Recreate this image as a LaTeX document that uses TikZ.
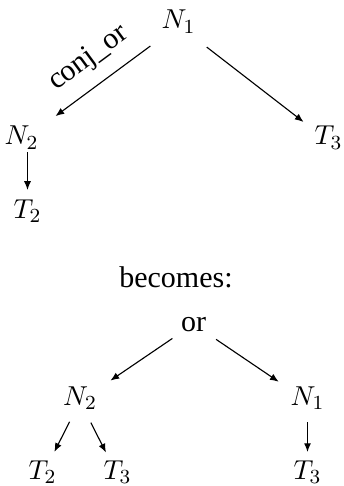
\documentclass[tikz,border=0pt]{standalone}
\usepackage{fontspec}
\setmainfont{Liberation Serif}
\usetikzlibrary{arrows.meta}
\tikzset{
  mnode/.style={inner sep=0pt, text height=6.5pt, text depth=3.5pt, font=\fontsize{11}{13}\selectfont},
  tnode/.style={inner sep=0pt, anchor=base, font=\fontsize{12}{14}\selectfont},
  lbl/.style={inner sep=0pt, font=\fontsize{12}{14}\selectfont},
  conn/.style={-{Latex[length=3.5pt,width=2.8pt]}, line width=0.45pt},
}
\begin{document}
\begin{tikzpicture}[x=0.4pt,y=-0.4pt]
\useasboundingbox (0,0) rectangle (343,486);
\clip (0,0) rectangle (343,486);
% upper tree
\node[mnode] (N1t) at (178.5,25.25) {$N_1$};
\node[mnode] (N2t) at (21.5,141.25) {$N_2$};
\node[mnode] (T3t) at (328.5,141.25) {$T_3$};
\node[mnode] (T2t) at (27.5,214.25) {$T_2$};
\draw[conn, shorten <=14pt, shorten >=16.9pt] (N1t.center) -- (N2t.center)
  node[lbl, pos=0.47, sloped, above=5.2pt] (lab) {conj\_or};
\draw[conn, shorten <=14.3pt, shorten >=12.6pt] (N1t.center) -- (T3t.center);
\draw[conn, shorten <=4.3pt, shorten >=9.7pt] (N2t.center -| T2t.center) -- (T2t.center);
% caption
\node[tnode] (bec) at (176,287) {becomes:};
% lower tree
\node[tnode] (orn) at (193.5,331) {or};
\node[mnode] (N2b) at (80,401.25) {$N_2$};
\node[mnode] (N1b) at (307.5,401.25) {$N_1$};
\node[mnode] (T2b) at (42.5,475.25) {$T_2$};
\node[mnode] (T3b) at (117.5,475.25) {$T_3$};
\node[mnode] (T3r) at (307.5,475.25) {$T_3$};
\draw[conn, shorten <=10.2pt, shorten >=14.7pt] (orn.center) -- (N2b.center);
\draw[conn, shorten <=10.9pt, shorten >=13.9pt] (orn.center) -- (N1b.center);
\draw[conn, shorten <=9.2pt, shorten >=10.5pt] (N2b.center) -- (T2b.center);
\draw[conn, shorten <=9.6pt, shorten >=10.2pt] (N2b.center) -- (T3b.center);
\draw[conn, shorten <=8.3pt, shorten >=9.3pt] (N1b.center) -- (T3r.center);
\end{tikzpicture}
\end{document}
